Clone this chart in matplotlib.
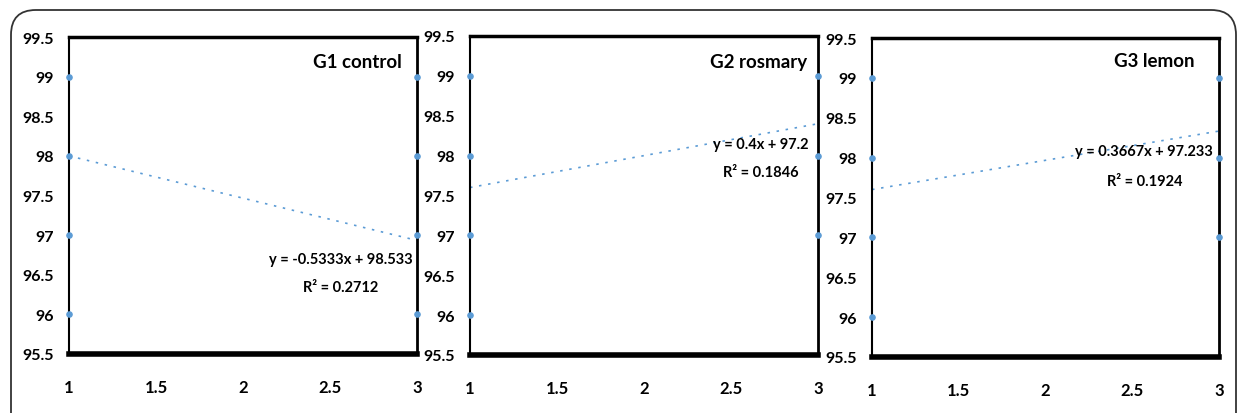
import numpy as np
import matplotlib.pyplot as plt
from matplotlib.patches import FancyBboxPatch

# data
groups = ['G1 control', 'G2 rosmary', 'G3 lemon']
x_left = [1, 1, 1, 1]
y_left = [99, 98, 97, 96]
x_right_g1 = [3, 3, 3, 3]
y_right_g1 = [99, 98, 97, 96]
x_right_g23 = [3, 3, 3]
y_right_g23 = [99, 98, 97]
slopes = [-0.5333, 0.4, 0.3667]
intercepts = [98.533, 97.2, 97.233]
eq_labels = ['y = -0.5333x + 98.533', 'y = 0.4x + 97.2', 'y = 0.3667x + 97.233']
r2_labels = ['R² = 0.2712', 'R² = 0.1846', 'R² = 0.1924']
x_ticks = [1, 1.5, 2, 2.5, 3]
x_ticklabels = ['1', '1.5', '2', '2.5', '3']
y_ticks = [95.5, 96, 96.5, 97, 97.5, 98, 98.5, 99, 99.5]
y_ticklabels = ['95.5', '96', '96.5', '97', '97.5', '98', '98.5', '99', '99.5']

plt.rcParams['font.family'] = ['Lato', 'DejaVu Sans']

fig = plt.figure(figsize=(12.42, 4.14), dpi=100)
W, H = 1242, 414
boxes = [(69, 38, 417, 355), (470, 37, 818, 356), (872, 39, 1219, 358)]
eq_pos = [(2.56, 96.70, 96.35), (2.67, 98.15, 97.79), (2.57, 98.08, 97.71)]
title_pos = [(0.957, 0.924), (0.968, 0.92), (0.93, 0.93)]
blue = '#5b9bd5'

# outer rounded frame
frame = FancyBboxPatch((11 / W, -0.1), (1236 - 11) / W, 1.0 - 11 / H + 0.1,
                       boxstyle='round,pad=0,rounding_size=0.02',
                       transform=fig.transFigure, fill=False, edgecolor='#333333',
                       linewidth=1.3, mutation_aspect=W / H)
fig.patches.append(frame)

xs = np.array([1.0, 3.0])
for i, (x0, y0, x1, y1) in enumerate(boxes):
    ax = fig.add_axes([x0 / W, 1 - y1 / H, (x1 - x0) / W, (y1 - y0) / H])
    ax.set_xlim(1, 3)
    ax.set_ylim(95.5, 99.5)
    ax.plot(xs, slopes[i] * xs + intercepts[i], linestyle=(0, (1.5, 4)), color=blue,
            linewidth=1.2, zorder=2)
    ax.scatter(x_left, y_left, s=14, color=blue, zorder=3, clip_on=False)
    if i == 0:
        ax.scatter(x_right_g1, y_right_g1, s=14, color=blue, zorder=3, clip_on=False)
    else:
        ax.scatter(x_right_g23, y_right_g23, s=14, color=blue, zorder=3, clip_on=False)
    ax.set_xticks(x_ticks)
    ax.set_xticklabels(x_ticklabels, fontsize=12, fontweight='bold')
    ax.set_yticks(y_ticks)
    ax.set_yticklabels(y_ticklabels, fontsize=11.5, fontweight='bold')
    ax.tick_params(axis='x', length=0, pad=18)
    ax.tick_params(axis='y', length=0, pad=11)
    ax.spines['left'].set_linewidth(1.5)
    ax.spines['right'].set_linewidth(2)
    ax.spines['top'].set_linewidth(2.5)
    ax.spines['bottom'].set_linewidth(4)
    tx, ty = title_pos[i]
    ax.text(tx, ty, groups[i], transform=ax.transAxes, ha='right', va='center',
            fontsize=13.5, fontweight='bold')
    ex, ey, ry = eq_pos[i]
    ax.text(ex, ey, eq_labels[i], ha='center', va='center', fontsize=10.5, fontweight='bold')
    ax.text(ex, ry, r2_labels[i], ha='center', va='center', fontsize=10.5, fontweight='bold')

fig.savefig('out.png', dpi=100)
